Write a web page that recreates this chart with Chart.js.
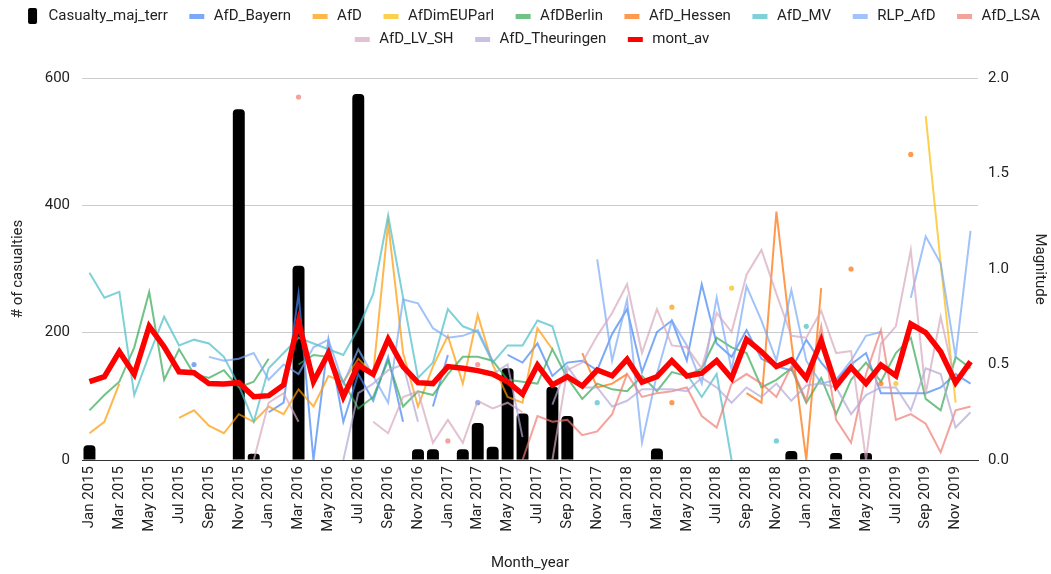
<!DOCTYPE html>
<html>
<head>
<meta charset="utf-8">
<script src="https://cdn.jsdelivr.net/npm/chart.js@4"></script>
<style>
  html, body { margin: 0; padding: 0; background: #fff; }
  canvas { display: block; }
</style>
</head>
<body>
<canvas id="chart" width="1051" height="574"></canvas>
<script>
const _ = null;

// Month categories, Jan 2015 .. Dec 2019
const monthNames = ['Jan', 'Feb', 'Mar', 'Apr', 'May', 'Jun', 'Jul', 'Aug', 'Sep', 'Oct', 'Nov', 'Dec'];
const years = [2015, 2016, 2017, 2018, 2019];
const categories = years.flatMap(y => monthNames.map(m => m + ' ' + y));

// Left axis: casualties of major terror attacks per month
const casualties = [
  23, 0, 0, 0, 0, 0, 0, 0, 0, 0, 551, 10,
  0, 0, 305, 0, 0, 0, 575, 0, 0, 0, 17, 17,
  0, 17, 58, 21, 144, 73, 0, 115, 69, 0, 0, 0,
  0, 0, 18, 0, 0, 0, 0, 0, 0, 0, 0, 14,
  0, 0, 11, 0, 11, 0, 0, 0, 0, 0, 0, 0
];

// Right axis: magnitude per account / month
const afdBayern = [
  _, _, _, _, _, _, _, 0.50, _, _, _, _,
  0.25, 0.30, 0.87, 0.00, 0.63, 0.20, 0.45, 0.31, 0.54, 0.20, _, 0.28,
  0.55, _, 0.30, _, 0.55, 0.51, 0.61, 0.44, 0.51, 0.52, 0.47, 0.66,
  0.79, 0.46, 0.67, 0.73, 0.52, 0.92, 0.61, 0.54, 0.68, 0.53, 0.49, 0.47,
  0.63, 0.51, 0.42, 0.50, 0.56, 0.35, 0.35, 0.35, 0.35, 0.38, 0.45, 0.40
];
const afd = [
  0.14, 0.20, 0.40, _, _, _, 0.22, 0.26, 0.18, 0.14, 0.24, 0.20,
  0.28, 0.24, 0.37, 0.28, 0.44, 0.41, 0.53, 0.45, 1.24, 0.56, 0.28, 0.49,
  0.65, 0.40, 0.76, 0.50, 0.33, 0.30, 0.69, 0.58, _, _, _, _,
  _, _, _, 0.80, _, _, _, _, _, _, _, _,
  _, _, _, _, _, _, _, _, _, _, _, _
];
const afdEuParl = [
  _, _, _, _, _, _, _, _, _, _, _, _,
  _, _, _, _, _, _, _, _, _, _, _, _,
  _, _, _, _, _, _, _, _, _, _, _, _,
  _, _, _, _, _, _, _, 0.90, _, _, _, _,
  _, _, _, _, _, _, 0.40, _, 1.80, 1.03, 0.30, _
];
const afdBerlin = [
  0.26, 0.34, 0.41, 0.59, 0.88, 0.42, 0.58, 0.45, 0.43, 0.47, 0.38, 0.41,
  0.53, _, 0.50, 0.55, 0.54, 0.41, 0.27, 0.33, 0.52, 0.28, 0.36, 0.34,
  0.45, 0.54, 0.54, 0.52, 0.42, 0.41, 0.40, 0.58, 0.43, 0.32, 0.40, 0.37,
  0.36, 0.44, 0.36, 0.46, 0.44, 0.48, 0.64, 0.59, 0.56, 0.38, 0.42, 0.48,
  0.30, 0.43, 0.24, 0.42, 0.51, 0.41, 0.56, 0.64, 0.32, 0.26, 0.54, 0.48
];
const afdHessen = [
  _, _, _, _, _, _, _, _, _, _, _, _,
  _, _, _, _, _, _, _, _, _, _, _, _,
  _, _, _, _, _, _, _, _, _, 0.56, 0.38, 0.40,
  0.45, _, _, 0.30, _, _, _, _, 0.35, 0.30, 1.30, 0.62,
  0.00, 0.90, _, 1.00, _, 0.40, _, 1.60, _, _, _, _
];
const afdMV = [
  0.98, 0.85, 0.88, 0.34, 0.55, 0.75, 0.60, 0.63, 0.61, 0.54, 0.39, 0.20,
  0.48, 0.56, 0.64, 0.61, 0.58, 0.55, 0.69, 0.87, 1.28, 0.85, 0.43, 0.51,
  0.79, 0.70, 0.67, 0.51, 0.60, 0.60, 0.73, 0.70, 0.44, _, 0.30, _,
  _, _, _, 0.50, 0.45, 0.33, 0.45, 0.00, _, _, 0.10, _,
  0.70, _, _, _, _, _, _, _, _, _, _, _
];
const rlpAfd = [
  _, _, _, _, _, _, _, _, 0.54, 0.52, 0.53, 0.56,
  0.42, 0.50, 0.45, 0.59, 0.63, 0.40, 0.58, 0.44, 0.30, 0.84, 0.82, 0.69,
  0.64, 0.65, 0.68, 0.52, _, _, _, _, _, _, 1.05, 0.52,
  0.84, 0.09, 0.45, 0.73, 0.60, 0.40, 0.85, 0.47, 0.91, 0.73, 0.52, 0.89,
  0.52, 0.40, 0.42, 0.52, 0.65, 0.67, _, 0.85, 1.17, 1.03, 0.54, 1.20
];
const afdLSA = [
  _, _, _, _, _, _, _, _, _, _, _, _,
  _, _, 1.90, _, _, _, _, _, _, _, _, _,
  0.10, _, 0.50, _, _, 0.00, 0.23, 0.20, 0.21, 0.13, 0.15, 0.24,
  0.45, 0.33, 0.35, 0.36, 0.38, 0.23, 0.17, 0.40, 0.45, 0.40, 0.33, 0.49,
  0.31, 0.70, 0.21, 0.09, 0.45, 0.68, 0.21, 0.24, 0.19, 0.04, 0.26, 0.28
];
const afdLvSH = [
  _, _, _, _, _, _, _, _, _, _, _, 0.00,
  0.30, 0.35, 0.20, _, _, _, _, 0.20, 0.14, 0.33, 0.36, 0.09,
  0.21, 0.09, 0.31, 0.27, 0.30, 0.25, _, 0.00, 0.47, 0.51, 0.65, 0.77,
  0.92, 0.56, 0.79, 0.60, 0.59, 0.48, 0.77, 0.67, 0.97, 1.10, 0.87, 0.65,
  0.64, 0.78, 0.56, 0.57, 0.00, 0.61, 0.70, 1.10, 0.35, 0.75, 0.40, _
];
const afdTheuringen = [
  _, _, _, _, _, _, _, _, _, _, _, _,
  _, _, _, _, _, 0.00, 0.35, 0.40, 0.47, 0.50, 0.20, _,
  _, _, _, 0.45, 0.50, 0.12, _, 0.29, 0.49, 0.38, 0.38, 0.28,
  0.31, 0.37, 0.37, 0.37, 0.36, 0.43, 0.38, 0.30, 0.38, 0.33, 0.40, 0.31,
  0.39, 0.40, 0.38, 0.24, 0.34, 0.38, 0.38, 0.26, 0.48, 0.45, 0.17, 0.25
];
const montAv = [
  0.41, 0.436, 0.567, 0.449, 0.70, 0.593, 0.462, 0.457, 0.40, 0.398, 0.405, 0.331,
  0.337, 0.393, 0.724, 0.41, 0.559, 0.331, 0.497, 0.449, 0.632, 0.489, 0.405, 0.40,
  0.489, 0.48, 0.468, 0.45, 0.41, 0.345, 0.497, 0.393, 0.436, 0.387, 0.471, 0.441,
  0.527, 0.407, 0.436, 0.52, 0.44, 0.454, 0.52, 0.428, 0.632, 0.567, 0.49, 0.524,
  0.428, 0.625, 0.387, 0.485, 0.40, 0.497, 0.441, 0.712, 0.667, 0.567, 0.405, 0.515
];

const FONT = 'Roboto, "Liberation Sans", Arial, sans-serif';

// Thin series: [label, data, colour]
const magnitudeSeries = [
  ['AfD_Bayern', afdBayern, 'rgba(66,133,244,0.7)'],
  ['AfD', afd, 'rgba(255,153,0,0.7)'],
  ['AfDimEUParl', afdEuParl, 'rgba(251,188,4,0.7)'],
  ['AfDBerlin', afdBerlin, 'rgba(52,168,83,0.7)'],
  ['AfD_Hessen', afdHessen, 'rgba(255,109,1,0.7)'],
  ['AfD_MV', afdMV, 'rgba(70,189,198,0.7)'],
  ['RLP_AfD', rlpAfd, 'rgba(123,170,247,0.7)'],
  ['AfD_LSA', afdLSA, 'rgba(240,123,114,0.7)'],
  ['AfD_LV_SH', afdLvSH, 'rgba(213,166,189,0.7)'],
  ['AfD_Theuringen', afdTheuringen, 'rgba(180,167,214,0.7)']
];

// Isolated values (no neighbour on either side) are shown as a dot
function isolatedRadius(ctx) {
  const d = ctx.dataset.data, i = ctx.dataIndex;
  if (d[i] === null) return 0;
  const prev = i > 0 ? d[i - 1] : null;
  const next = i < d.length - 1 ? d[i + 1] : null;
  return (prev === null && next === null) ? 2.6 : 0;
}

const datasets = [{
  type: 'bar',
  label: 'Casualty_maj_terr',
  data: casualties,
  yAxisID: 'y',
  backgroundColor: '#000000',
  borderRadius: { topLeft: 4, topRight: 4, bottomLeft: 0, bottomRight: 0 },
  borderSkipped: 'start',
  barPercentage: 0.8,
  categoryPercentage: 1.0
}];
magnitudeSeries.forEach(([label, data, color]) => {
  datasets.push({
    type: 'line', label, data, yAxisID: 'y1',
    borderColor: color, backgroundColor: color,
    borderWidth: 2, tension: 0, spanGaps: false,
    pointRadius: isolatedRadius, pointHoverRadius: isolatedRadius,
    pointBorderWidth: 0, pointBackgroundColor: color
  });
});
datasets.push({
  type: 'line', label: 'mont_av', data: montAv, yAxisID: 'y1',
  borderColor: '#ff0000', backgroundColor: '#ff0000',
  borderWidth: 5.5, tension: 0, pointRadius: 0
});
// later series are painted over earlier ones, bars at the back
datasets.forEach((ds, i) => { ds.order = datasets.length - i; });

// Legend swatches: tall block for the bars, short bar for the lines
function makeSwatch(color, w, h, offset, total) {
  const c = document.createElement('canvas');
  c.width = total; c.height = h;
  const g = c.getContext('2d');
  g.fillStyle = color;
  g.beginPath();
  if (g.roundRect) g.roundRect(offset, 0, w, h, h > 8 ? 2 : 0); else g.rect(offset, 0, w, h);
  g.fill();
  return c;
}
const swatches = datasets.map((ds, i) => i === 0
  ? makeSwatch('#000000', 9, 16, 17, 30)
  : makeSwatch(ds.borderColor, 15, 5, 13, 30));

const legendSpacing = {
  id: 'legendSpacing',
  beforeInit(chart) {
    const fit = chart.legend.fit;
    chart.legend.fit = function () { fit.call(this); this.height += 21; };
  }
};

new Chart(document.getElementById('chart'), {
  data: { labels: categories, datasets },
  plugins: [legendSpacing],
  options: {
    responsive: false,
    animation: false,
    devicePixelRatio: 1,
    layout: { padding: 0 },
    plugins: {
      tooltip: { enabled: false },
      legend: {
        position: 'top',
        align: 'center',
        labels: {
          usePointStyle: true,
          pointStyleWidth: 30,
          padding: 8.5,
          color: '#222',
          font: { family: FONT, size: 15 },
          generateLabels(chart) {
            const items = Chart.defaults.plugins.legend.labels.generateLabels(chart);
            items.forEach(it => { it.pointStyle = swatches[it.datasetIndex]; });
            return items;
          },
          sort: (a, b) => a.datasetIndex - b.datasetIndex
        }
      }
    },
    scales: {
      x: {
        type: 'category',
        offset: true,
        afterFit: s => { s.height = 114; },
        grid: { display: false, drawTicks: false },
        border: { display: true, color: '#333', width: 1 },
        ticks: {
          autoSkip: false, maxRotation: 90, minRotation: 90, padding: 6,
          color: '#222', font: { family: FONT, size: 15 },
          callback: function (v, i) { return i % 2 === 0 ? this.getLabelForValue(v) : ''; }
        },
        title: {
          display: true, text: 'Month_year', color: '#222',
          font: { family: FONT, size: 15 }, padding: { top: 0, bottom: 2 }
        }
      },
      y: {
        position: 'left', min: 0, max: 600,
        afterFit: s => { s.width = 82; },
        grid: { color: c => c.tick.value === 0 ? '#333' : '#cccccc', drawTicks: false },
        border: { display: false },
        ticks: { stepSize: 200, padding: 12, color: '#222', font: { family: FONT, size: 15 } },
        title: {
          display: true, text: '# of casualties', color: '#222',
          font: { family: FONT, size: 15 }, padding: { top: 9, bottom: 0 }
        }
      },
      y1: {
        position: 'right', min: 0, max: 2,
        afterFit: s => { s.width = 73; },
        grid: { display: false, drawTicks: false },
        border: { display: false },
        ticks: {
          stepSize: 0.5, padding: 10, color: '#222', font: { family: FONT, size: 15 },
          callback: v => Number(v).toFixed(1)
        },
        title: {
          display: true, text: 'Magnitude', color: '#222',
          font: { family: FONT, size: 15 }, padding: { top: 2, bottom: 0 }
        }
      }
    }
  }
});
</script>
</body>
</html>
